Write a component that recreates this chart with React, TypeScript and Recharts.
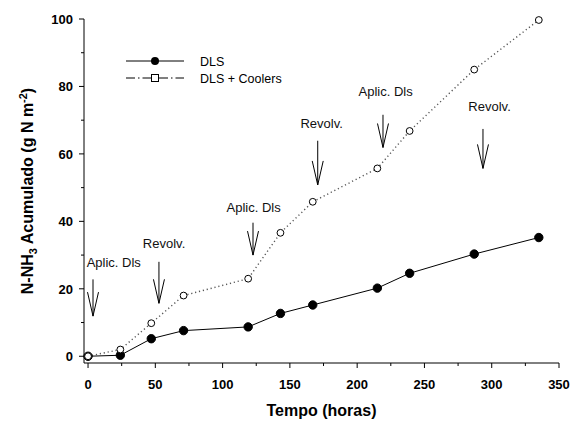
import React from 'react';
import {
  ComposedChart,
  Line,
  XAxis,
  YAxis,
  ReferenceLine,
  ReferenceDot,
  Customized,
} from 'recharts';

// sampling times (hours) and accumulated N-NH3 (g N m-2)
const hours = [0, 24, 47, 71, 119, 143, 167, 215, 239, 287, 335];
const dls = [0, 0.3, 5.2, 7.6, 8.7, 12.7, 15.2, 20.2, 24.6, 30.3, 35.2];
const dlsCoolers = [0, 2.0, 9.8, 18.0, 23.0, 36.6, 45.8, 55.7, 66.8, 85.0, 99.7];

const xTicks = [0, 25, 50, 75, 100, 125, 150, 175, 200, 225, 250, 275, 300, 325, 350];
const yTicks = [0, 10, 20, 30, 40, 50, 60, 70, 80, 90, 100];

// management events marked with arrows
const eventLabels = ['Aplic. Dls', 'Revolv.', 'Aplic. Dls', 'Revolv.', 'Aplic. Dls', 'Revolv.'];
const eventHours = [3.7, 52.7, 122.6, 170.7, 219.2, 293.5];
const arrowTop = [22.8, 28.0, 39.6, 63.9, 71.6, 67.4];
const arrowTip = [11.9, 15.7, 30.0, 50.8, 61.9, 55.7];
const labelHours = [19.1, 56.5, 123.1, 173.6, 221.2, 298.4];
const labelLevel = [27.7, 33.6, 44.2, 69.1, 78.5, 74.0];

const data = hours.map((h, i) => ({ h, dls: dls[i], coolers: dlsCoolers[i] }));

const FONT = '"Liberation Sans", Arial, Helvetica, sans-serif';

const XTick = (props: any) => {
  const { x, y, payload } = props;
  const major = payload.value % 50 === 0;
  return (
    <g>
      <line x1={x} x2={x} y1={y} y2={y + (major ? 5 : 3)} stroke="#000" />
      {major && (
        <text x={x} y={y + 26} textAnchor="middle" fontSize={13} fontWeight="bold" fontFamily={FONT} fill="#000">
          {payload.value}
        </text>
      )}
    </g>
  );
};

const YTick = (props: any) => {
  const { x, y, payload } = props;
  const major = payload.value % 20 === 0;
  return (
    <g>
      <line x1={x} x2={x - (major ? 5 : 3)} y1={y} y2={y} stroke="#000" />
      {major && (
        <text x={x - 11} y={y + 4.7} textAnchor="end" fontSize={13} fontWeight="bold" fontFamily={FONT} fill="#000">
          {payload.value}
        </text>
      )}
    </g>
  );
};

const ArrowHead = (props: any) => {
  const { cx, cy } = props;
  return (
    <path d={`M${cx - 5.5},${cy - 24} L${cx},${cy} L${cx + 5.5},${cy - 24}`} fill="none" stroke="#000" strokeWidth={1} />
  );
};

const makeLabel = (text: string) => (props: any) => (
  <text x={props.cx} y={props.cy + 4.6} textAnchor="middle" fontSize={13} fontFamily={FONT} fill="#111">
    {text}
  </text>
);

const Extras = () => (
  <g fontFamily={FONT}>
    {/* legend */}
    <line x1={126} x2={184} y1={61} y2={61} stroke="#000" />
    <circle cx={155} cy={61} r={4} fill="#000" />
    <text x={200} y={65.5} fontSize={12.5} fill="#000">DLS</text>
    <line x1={126} x2={184} y1={78} y2={78} stroke="#000" strokeDasharray="9 3 1.5 3" />
    <rect x={151.5} y={74.5} width={7} height={7} fill="#fff" stroke="#000" />
    <text x={200} y={82.5} fontSize={12.5} fill="#000">DLS + Coolers</text>
    {/* axis titles */}
    <text x={321.5} y={416} textAnchor="middle" fontSize={16} fontWeight="bold" fill="#000">
      Tempo (horas)
    </text>
    <text
      transform="translate(32.5,191) rotate(-90)"
      textAnchor="middle"
      fontSize={16}
      fontWeight="bold"
      fill="#000"
    >
      N-NH<tspan dy={4} fontSize={11}>3</tspan>
      <tspan dy={-4}> Acumulado (g N m</tspan>
      <tspan dy={-6} fontSize={11}>-2</tspan>
      <tspan dy={6}>)</tspan>
    </text>
  </g>
);

export default function App() {
  return (
    <div style={{ position: 'absolute', left: 0, top: 0, background: '#fff' }}>
      <ComposedChart
        width={576}
        height={421}
        data={data}
        margin={{ top: 19, right: 17, left: 24, bottom: 28 }}
      >
        <XAxis
          dataKey="h"
          type="number"
          domain={[-3, 350]}
          ticks={xTicks}
          interval={0}
          tickSize={0}
          tickMargin={0}
          tickLine={false}
          tick={XTick}
          height={30}
          axisLine={{ stroke: '#000' }}
        />
        <YAxis
          type="number"
          domain={[-2, 100]}
          ticks={yTicks}
          interval={0}
          tickSize={0}
          tickMargin={0}
          tickLine={false}
          tick={YTick}
          width={60}
          axisLine={{ stroke: '#000' }}
        />
        {eventHours.map((h, i) => (
          <ReferenceLine
            key={`s${i}`}
            segment={[{ x: h, y: arrowTop[i] }, { x: h, y: arrowTip[i] }]}
            stroke="#000"
            strokeWidth={1}
          />
        ))}
        {eventHours.map((h, i) => (
          <ReferenceDot key={`a${i}`} x={h} y={arrowTip[i]} r={1} shape={ArrowHead} />
        ))}
        {eventLabels.map((t, i) => (
          <ReferenceDot key={`l${i}`} x={labelHours[i]} y={labelLevel[i]} r={1} shape={makeLabel(t)} />
        ))}
        <Line
          dataKey="dls"
          stroke="#000"
          strokeWidth={1}
          dot={{ r: 4.2, fill: '#000', stroke: '#000', strokeWidth: 1 }}
          isAnimationActive={false}
        />
        <Line
          dataKey="coolers"
          stroke="#555"
          strokeWidth={1.4}
          strokeDasharray="1.2 2.8"
          dot={{ r: 3.4, fill: '#fff', stroke: '#000', strokeWidth: 1, strokeDasharray: 'none' }}
          isAnimationActive={false}
        />
        <Customized component={Extras} />
      </ComposedChart>
    </div>
  );
}
